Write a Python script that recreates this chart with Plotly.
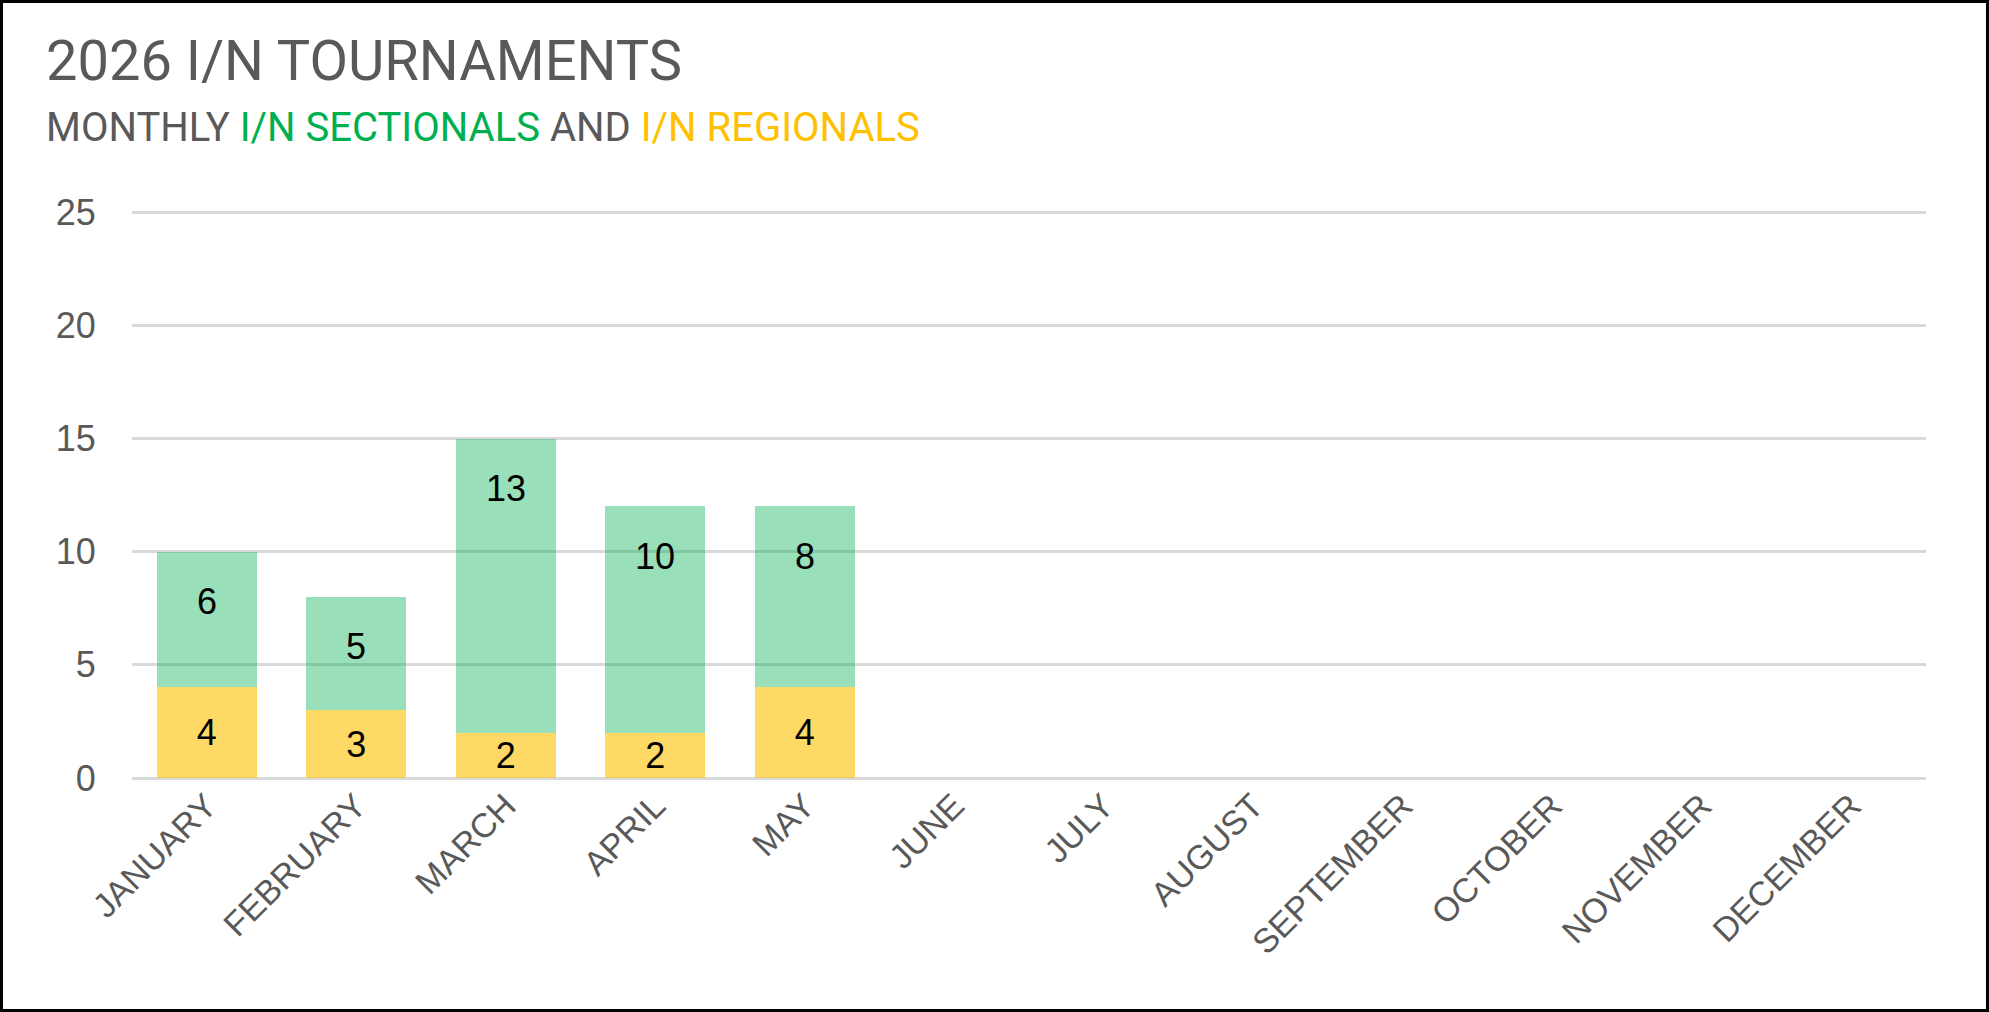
import plotly.graph_objects as go

# monthly I/N tournament counts
months = ["JANUARY", "FEBRUARY", "MARCH", "APRIL", "MAY", "JUNE",
          "JULY", "AUGUST", "SEPTEMBER", "OCTOBER", "NOVEMBER", "DECEMBER"]
regionals = [4, 3, 2, 2, 4, None, None, None, None, None, None, None]
sectionals = [6, 5, 13, 10, 8, None, None, None, None, None, None, None]
y_ticks = [0, 5, 10, 15, 20, 25]

W, H = 1989, 1012
ML, MR, MT, MB = 132, 63, 210, 234
PW, PH = W - ML - MR, H - MT - MB

GREY = "#595959"
GREEN = "#00B050"
GOLD = "#FFC000"
LABEL_FONT = "Liberation Sans, Arial, sans-serif"

fig = go.Figure()

fig.add_trace(go.Bar(
    x=months, y=regionals, name="I/N REGIONALS",
    marker=dict(color=GOLD, opacity=0.6, line_width=0),
    text=regionals, textposition="inside", insidetextanchor="middle",
    textangle=0, constraintext="none",
    textfont=dict(family=LABEL_FONT, size=36, color="black"),
    hoverinfo="skip",
))
fig.add_trace(go.Bar(
    x=months, y=sectionals, name="I/N SECTIONALS",
    marker=dict(color=GREEN, opacity=0.4, line_width=0),
    hoverinfo="skip",
))

# sectional labels sit near the top of the stack (inside end)
for m, r, s in zip(months, regionals, sectionals):
    if s is None:
        continue
    fig.add_annotation(x=m, y=r + s, text=str(s), showarrow=False,
                       yanchor="middle", yshift=-50,
                       font=dict(family=LABEL_FONT, size=36, color="black"))

# titles
fig.add_annotation(xref="paper", yref="paper", x=-(ML - 44) / PW, y=1 + (MT - 61) / PH,
                   xanchor="left", yanchor="middle", showarrow=False,
                   text="2026 I/N TOURNAMENTS",
                   font=dict(family="Roboto, sans-serif", size=56, color=GREY))
fig.add_annotation(xref="paper", yref="paper", x=-(ML - 44) / PW, y=1 + (MT - 127) / PH,
                   xanchor="left", yanchor="middle", showarrow=False,
                   text=("MONTHLY <span style='color:%s'>I/N SECTIONALS</span> AND "
                         "<span style='color:%s'>I/N REGIONALS</span>" % (GREEN, GOLD)),
                   font=dict(family="Roboto, sans-serif", size=40, color=GREY))

# outer frame
fig.add_shape(type="rect", xref="paper", yref="paper",
              x0=-ML / PW + 1.5 / PW, x1=1 + MR / PW - 1.5 / PW,
              y0=-MB / PH + 1.5 / PH, y1=1 + MT / PH - 1.5 / PH,
              line=dict(color="black", width=3), layer="above")

fig.update_layout(
    width=W, height=H,
    margin=dict(l=ML, r=MR, t=MT, b=MB),
    barmode="stack", bargap=0.33,
    showlegend=False,
    plot_bgcolor="white", paper_bgcolor="white",
    font=dict(family="Liberation Sans, Arial, sans-serif", color=GREY),
)
fig.update_xaxes(
    categoryorder="array", categoryarray=months,
    tickangle=-45, tickfont=dict(size=34, color=GREY),
    showgrid=False, showline=False, ticks="",
)
fig.update_yaxes(
    range=[0, 25.1], tickvals=y_ticks,
    tickfont=dict(size=36, color=GREY),
    showgrid=True, gridcolor="#d9d9d9", gridwidth=3,
    zeroline=True, zerolinecolor="#d9d9d9", zerolinewidth=3,
    showline=False, ticks="outside", ticklen=28, tickcolor="white",
)

fig.write_html("out.html", config={"displayModeBar": False},
               post_script="document.body.style.margin='0';document.body.style.overflow='hidden';")
